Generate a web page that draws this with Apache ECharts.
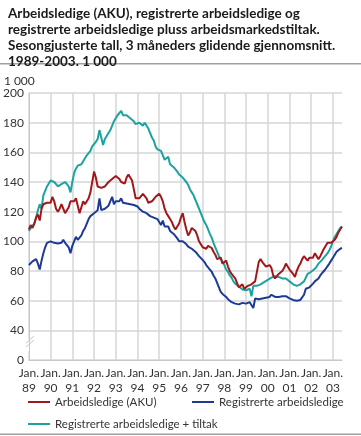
<!DOCTYPE html>
<html>
<head>
<meta charset="utf-8">
<script src="https://cdn.jsdelivr.net/npm/echarts@6/dist/echarts.min.js"></script>
<style>
html,body{margin:0;padding:0;background:#fff;}
#c{width:361px;height:436px;}
</style>
</head>
<body>
<div id="c"></div>
<script>
// Year tick labels (Jan of each year), monthly data Jan 1989 - Jun 2003
const years = ['89','90','91','92','93','94','95','96','97','98','99','00','01','02','03'];
const monthsInLastYear = 6;

// Arbeidsledige (AKU), 1 000
const aku = [
  108,111,109,112,116,118,114,122,125,124,126,127,
  126,130,127,122,120,122,125,122,119,120,123,127,
  128,127,129,124,119,123,127,125,127,129,133,140,
  147,143,137,137,136,136,137,138,140,141,142,142,
  144,145,142,140,141,139,143,145,144,141,135,129,
  128,129,130,132,133,129,126,126,127,128,130,131,
  132,130,127,122,119,117,115,113,110,108,107,112,
  116,119,113,108,104,106,109,110,107,104,100,99,
  96,95,95,97,96,95.5,93,91,88,88,89,85,
  86,87,83,80,78,77,75,72,69,70,71,68,
  69,70,71,71,72,73,74,86,88,86,85,83,
  84,84,82,77,75,75,78,79,80,82,85,84,
  81,80,78,76,80,83,85,88,90,89,87,89,
  90,89,92,91,88,90,91,95,97,99,100,99,
  99,101,103,106,108,110
];

// Registrerte arbeidsledige, 1 000
const registrerte = [
  84,85,86.5,86,88,85,81,87,92,96,99,100,
  100,99.5,99,99,98.5,98.5,99,101,99,98,96,92,
  97,100,103,101,102,104,107,109,112,115,117,118,
  119,120,121,129,121,122,122,123,124,124.5,130,125,
  127,126,127,129,126,126,125.5,125.5,125,124.5,124.5,124,
  123.5,122,122,120,121,119,120,117,118,116,116,115,
  115,111,114,110,109,110,107,106,105,104,102,100,
  100,100,99.5,98,96.5,96,95,94,93,92,90,89,
  87.5,86,84,82.5,81,79.5,77,75,72,69,66,64.5,
  64,62.5,61,60,59,58.5,58,57.5,57.5,58,58.5,58,
  58,58,59,59.5,55,61.5,61,61,61,61.5,61.5,62,
  62,62.5,64,63,62.5,62.5,62.5,63,63,63,63,62.5,
  61.5,61,60.5,60,60,60,60.5,61.5,64,68,68.5,69,
  70,71.5,73,73.5,75,77,78.5,80,81.5,82.5,85,87,
  89,91,93,94,95,95.5
];

// Registrerte arbeidsledige + tiltak, 1 000
const tiltak = [
  107,109,110,112,116,121,125,122,131,134,137,139,
  141,141,140,138.5,137,138,138.5,139,140,138.5,137,133,
  140,146,149,151,151.5,152,154,156,158,159,161,164,
  164,167,169,175,170,165,169,171,172,175,178,181,
  182,185,184,188,185,184,185,184,183,182,181,179,
  179,180,181,178,180,179,176,173,170,168,164,162,
  162,161,158,155,154,157,152,152,150,149,147,145,
  144,143,141.5,140,138,135,133,131,128,125,122,119,
  116,113,111,108,105,102.5,99,96,93,90,88,86,
  84,81,79.5,77,75.5,73,71.5,70.5,69.5,68.5,67.5,67,
  67,67,68,63,70,71,70,69,71,72,72.5,73,
  74,75,75.5,76,76.5,76,76,75.5,75,75.5,75,74,
  73,72,71,70,70,70.5,71,72,73,74,78,79,
  79.5,80.5,81.5,83,85,86,87.5,89,90.5,92,94,96.5,
  100,103,105,107,109,110
];

// y tick values; the lowest tick stands for 0 (broken axis)
const yTicks = [20,40,60,80,100,120,140,160,180,200];
const yBreakLabel = '0';

const categories = [];
years.forEach((y, i) => {
  const n = (i === years.length - 1) ? monthsInLastYear : 12;
  for (let m = 0; m < n; m++) categories.push((m === 0 ? 'Jan.\n' : '') + y);
});

const FONT = 'Lato';
const chart = echarts.init(document.getElementById('c'), null, {renderer: 'canvas'});

const option = {
  animation: false,
  backgroundColor: '#fff',
  title: {
    text: 'Arbeidsledige (AKU), registrerte arbeidsledige og\nregistrerte arbeidsledige pluss arbeidsmarkedstiltak.\nSesongjusterte tall, 3 måneders glidende gjennomsnitt.\n1989-2003. 1 000',
    left: 3, top: 1,
    textStyle: {fontFamily: FONT, fontSize: 13.5, fontWeight: 'bold', color: '#1a1a1a', lineHeight: 16}
  },
  grid: {left: 28, right: 19, top: 93, bottom: 76, containLabel: false},
  xAxis: {
    type: 'category',
    data: categories,
    boundaryGap: false,
    axisLine: {show: true, lineStyle: {color: '#c8c8c8', width: 1}},
    axisTick: {show: false},
    axisLabel: {
      interval: (idx) => idx % 12 === 0,
      formatter: (v) => v,
      fontFamily: FONT, fontSize: 12, color: '#333', lineHeight: 15, margin: 6
    },
    splitLine: {show: true, interval: (idx) => idx % 12 === 0, lineStyle: {color: '#d6d6d6', width: 1.5}}
  },
  yAxis: {
    type: 'value',
    min: yTicks[0], max: yTicks[yTicks.length - 1], interval: 20,
    name: '1 000',
    nameLocation: 'end',
    nameGap: 6,
    nameTextStyle: {fontFamily: FONT, fontSize: 12, color: '#333', align: 'left', padding: [0, 0, 0, -25]},
    axisLine: {show: true, lineStyle: {color: '#c8c8c8', width: 1}},
    axisTick: {show: false},
    axisLabel: {
      formatter: (v) => v === yTicks[0] ? yBreakLabel : String(v),
      fontFamily: FONT, fontSize: 12, color: '#333', margin: 5
    },
    splitLine: {show: true, lineStyle: {color: '#d6d6d6', width: 1.5}}
  },
  legend: {show: false},
  series: [
    {name: 'Arbeidsledige (AKU)', type: 'line', data: aku, showSymbol: false, lineStyle: {color: '#a3161a', width: 2}, itemStyle: {color: '#a3161a'}, z: 3},
    {name: 'Registrerte arbeidsledige', type: 'line', data: registrerte, showSymbol: false, lineStyle: {color: '#1d3a94', width: 2}, itemStyle: {color: '#1d3a94'}, z: 2},
    {name: 'Registrerte arbeidsledige + tiltak', type: 'line', data: tiltak, showSymbol: false, lineStyle: {color: '#1ba3a0', width: 2}, itemStyle: {color: '#1ba3a0'}, z: 1}
  ]
};
chart.setOption(option);

// Decorations: rules, axis break marks, legend
const yb = chart.convertToPixel({yAxisIndex: 0}, 30);
const x0 = chart.convertToPixel({xAxisIndex: 0}, 0);
const legendItems = [
  {name: 'Arbeidsledige (AKU)', color: '#a3161a', x: 28, y: 402},
  {name: 'Registrerte arbeidsledige', color: '#1d3a94', x: 192, y: 402},
  {name: 'Registrerte arbeidsledige + tiltak', color: '#1ba3a0', x: 28, y: 424}
];
const graphics = [
  {type: 'rect', shape: {x: 0, y: 63, width: 361, height: 1.5}, style: {fill: '#a0a0a0'}},
  {type: 'rect', shape: {x: 0, y: 433.5, width: 361, height: 1.5}, style: {fill: '#a0a0a0'}},
  {type: 'rect', shape: {x: x0 - 4, y: yb - 6, width: 8, height: 12}, style: {fill: '#fff'}},
  {type: 'line', shape: {x1: x0 - 3, y1: yb - 2, x2: x0 + 5, y2: yb - 9}, style: {stroke: '#c8c8c8', lineWidth: 1}},
  {type: 'line', shape: {x1: x0 - 3, y1: yb + 2, x2: x0 + 5, y2: yb - 5}, style: {stroke: '#c8c8c8', lineWidth: 1}}
];
legendItems.forEach(it => {
  graphics.push({type: 'line', shape: {x1: it.x, y1: it.y, x2: it.x + 22, y2: it.y}, style: {stroke: it.color, lineWidth: 2}});
  graphics.push({type: 'text', x: it.x + 27, y: it.y, style: {text: it.name, fontFamily: FONT, fontSize: 11.5, fill: '#333', verticalAlign: 'middle'}});
});
chart.setOption({graphic: graphics});
</script>
</body>
</html>
